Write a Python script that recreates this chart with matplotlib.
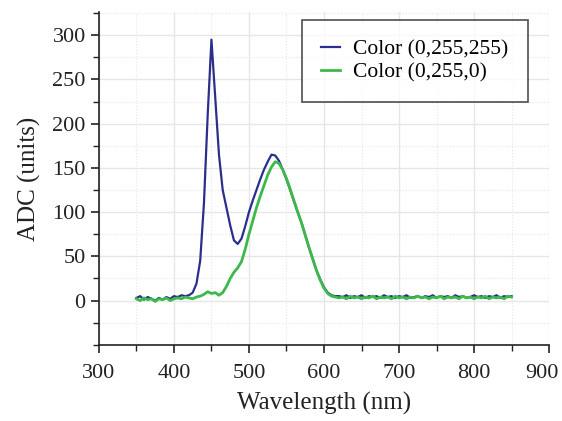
import matplotlib.pyplot as plt
from matplotlib.ticker import MultipleLocator

# wavelength grid (nm)
wavelength = list(range(350, 855, 5))

# Color (0,255,255) - blue trace
adc_cyan = [3, 5, 1, 4, 2, 0, 3, 1, 4, 2,
            5, 4, 6, 5, 6, 9, 19, 45, 110, 210,
            295, 230, 165, 125, 105, 85, 68, 64, 70, 84,
            100, 113, 125, 137, 148, 157, 165, 164, 158, 148,
            137, 125, 112, 100, 88, 74, 60, 47, 34, 24,
            15, 9, 6, 5, 5, 4, 6, 3, 5, 4,
            6, 3, 5, 4, 5, 3, 6, 4, 5, 3,
            5, 4, 6, 3, 4, 5, 3, 5, 4, 6,
            3, 5, 4, 5, 3, 6, 4, 5, 3, 4,
            6, 4, 5, 3, 5, 4, 6, 3, 5, 4, 5]

# Color (0,255,0) - green trace
adc_green = [2, 0, 3, 1, 2, -1, 2, 1, 3, 0,
             2, 3, 2, 4, 3, 2, 4, 5, 7, 10,
             8, 9, 6, 9, 16, 25, 32, 37, 44, 58,
             75, 90, 105, 118, 130, 142, 151, 157, 155, 148,
             138, 126, 113, 100, 88, 74, 60, 47, 34, 23,
             14, 8, 5, 4, 3, 4, 2, 5, 3, 4,
             2, 4, 3, 5, 2, 4, 3, 4, 2, 5,
             3, 4, 2, 4, 3, 5, 3, 4, 2, 4,
             3, 5, 2, 4, 3, 4, 2, 5, 3, 4,
             2, 4, 3, 5, 2, 4, 3, 4, 2, 5, 4]

x_ticks = [300, 400, 500, 600, 700, 800, 900]
y_ticks = [0, 50, 100, 150, 200, 250, 300]

plt.rcParams['font.family'] = ['Liberation Serif', 'DejaVu Serif']

fig = plt.figure(figsize=(5.62, 4.21), dpi=100)
ax = fig.add_axes([0.176, 0.181, 0.801, 0.79])

ax.plot(wavelength, adc_cyan, color='#2b2f8c', lw=1.6, label='Color (0,255,255)')
ax.plot(wavelength, adc_green, color='#3cb94a', lw=2.0, label='Color (0,255,0)')

ax.set_xlim(300, 900)
ax.set_ylim(-50, 326)
# last x label is drawn separately, nudged left so it stays inside the figure
ax.set_xticks(x_ticks, labels=[str(v) for v in x_ticks[:-1]] + [''])
ax.xaxis.set_minor_locator(MultipleLocator(50))
ax.set_yticks(y_ticks)
ax.yaxis.set_minor_locator(MultipleLocator(25))

ax.grid(which='major', color='#e6e6e6', lw=1.0)
ax.grid(which='minor', color='#e6e6e6', lw=0.8, ls=':')
ax.set_axisbelow(True)

for s in ['top', 'right']:
    ax.spines[s].set_visible(False)
for s in ['left', 'bottom']:
    ax.spines[s].set_color('#222222')
    ax.spines[s].set_linewidth(1.2)

ax.tick_params(which='major', direction='out', length=6, width=1.2, labelsize=16, colors='#222222')
ax.tick_params(which='minor', direction='out', length=4, width=1.0, colors='#222222')
ax.tick_params(axis='x', pad=8)

ax.annotate(str(x_ticks[-1]), xy=(x_ticks[-1], 0), xycoords=('data', 'axes fraction'),
            xytext=(-5, -14), textcoords='offset points', ha='center', va='top',
            fontsize=16, color='#222222', annotation_clip=False)

ax.set_xlabel('Wavelength (nm)', fontsize=18, color='#222222', labelpad=6)
ax.set_ylabel('ADC (units)', fontsize=18, color='#222222', labelpad=8)

leg = ax.legend(loc='upper right', bbox_to_anchor=(0.953, 0.977), fontsize=15.5,
                frameon=True, fancybox=False, edgecolor='#222222',
                handlelength=0.9, handletextpad=0.6, borderpad=0.9, labelspacing=0.15,
                borderaxespad=0)
leg.get_frame().set_linewidth(1.2)

fig.savefig('out.png', dpi=100)
